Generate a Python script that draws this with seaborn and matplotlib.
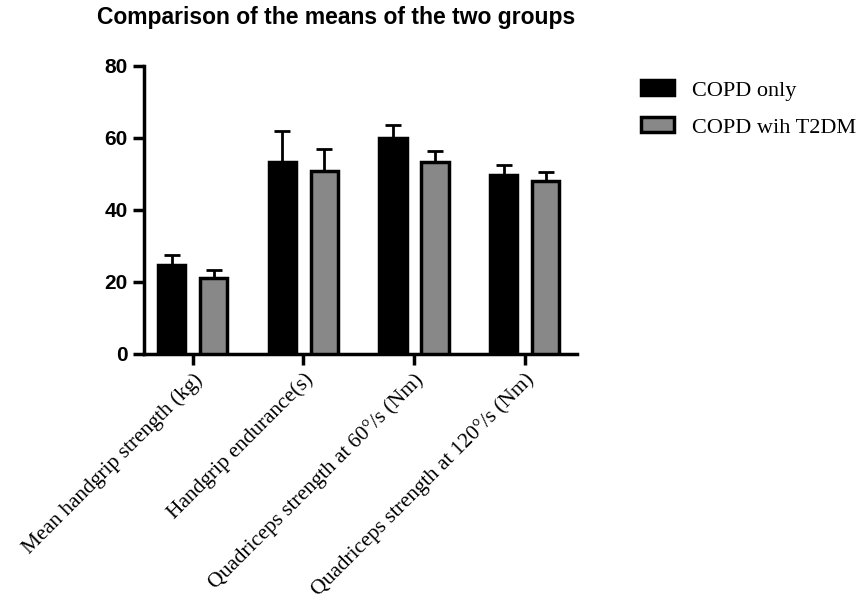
import pandas as pd
import matplotlib.pyplot as plt
import seaborn as sns
from matplotlib.patches import Patch

# Data
measures = ["Mean handgrip strength (kg)", "Handgrip endurance(s)",
            "Quadriceps strength at 60°/s (Nm)", "Quadriceps strength at 120°/s (Nm)"]
groups = ["COPD only", "COPD wih T2DM"]
copd_only = [24.6, 53.4, 59.9, 49.8]
copd_only_sd = [3.0, 8.4, 3.7, 2.8]
copd_t2dm = [21.0, 50.8, 53.4, 48.1]
copd_t2dm_sd = [2.4, 6.1, 3.0, 2.4]

df = pd.DataFrame({
    "Measure": measures * 2,
    "Group": [groups[0]] * 4 + [groups[1]] * 4,
    "Mean": copd_only + copd_t2dm,
    "SD": copd_only_sd + copd_t2dm_sd,
})

sns.set_style("ticks", {"axes.edgecolor": "black", "text.color": "black",
                        "xtick.color": "black", "ytick.color": "black"})
plt.rcParams['font.family'] = ['Liberation Sans', 'DejaVu Sans']

fig = plt.figure(figsize=(8.62, 6.04), dpi=100)
ax = fig.add_axes([0.167, 0.414, 0.502, 0.477])

colors = ["black", "#888888"]
sns.barplot(data=df, x="Measure", y="Mean", hue="Group", palette=colors,
            width=0.76, gap=0.35, edgecolor="black", linewidth=2.5,
            errorbar=None, legend=False, ax=ax, zorder=3)

# one-sided (upper) error bars placed on the bars seaborn drew
for bar, (_, row) in zip(ax.patches, df.iterrows()):
    xc = bar.get_x() + bar.get_width() / 2
    ax.errorbar(xc, row["Mean"], yerr=[[0], [row["SD"]]], fmt="none",
                ecolor="black", elinewidth=2, capsize=6, capthick=2, zorder=2)

ax.set_ylim(0, 80)
ax.set_xlim(-0.44, 3.47)
ax.set_yticks([0, 20, 40, 60, 80])
ax.set_xlabel("")
ax.set_ylabel("")
sns.despine(ax=ax)
for s in ["left", "bottom"]:
    ax.spines[s].set_linewidth(2.5)
ax.tick_params(axis="both", length=8, width=2.5, direction="out", colors="black")
for lab in ax.get_yticklabels():
    lab.set_fontweight("bold")
    lab.set_fontsize(15)
ax.set_xticks(range(len(measures)))
ax.set_xticklabels(measures, rotation=45, ha="right", rotation_mode="anchor",
                   fontsize=15.5, family=["Liberation Serif", "DejaVu Serif"])

handles = [Patch(facecolor=c, edgecolor="black", linewidth=2.5) for c in colors]
fig.legend(handles, groups, loc="upper left", bbox_to_anchor=(0.72, 0.9),
           frameon=False, handlelength=1.5, handleheight=0.65, labelspacing=0.75,
           prop={"family": ["Liberation Serif", "DejaVu Serif"], "size": 16})

fig.text(0.113, 0.99, "Comparison of the means of the two groups",
         fontsize=16.5, fontweight="bold", va="top", ha="left")

fig.savefig("out.png", dpi=100)
